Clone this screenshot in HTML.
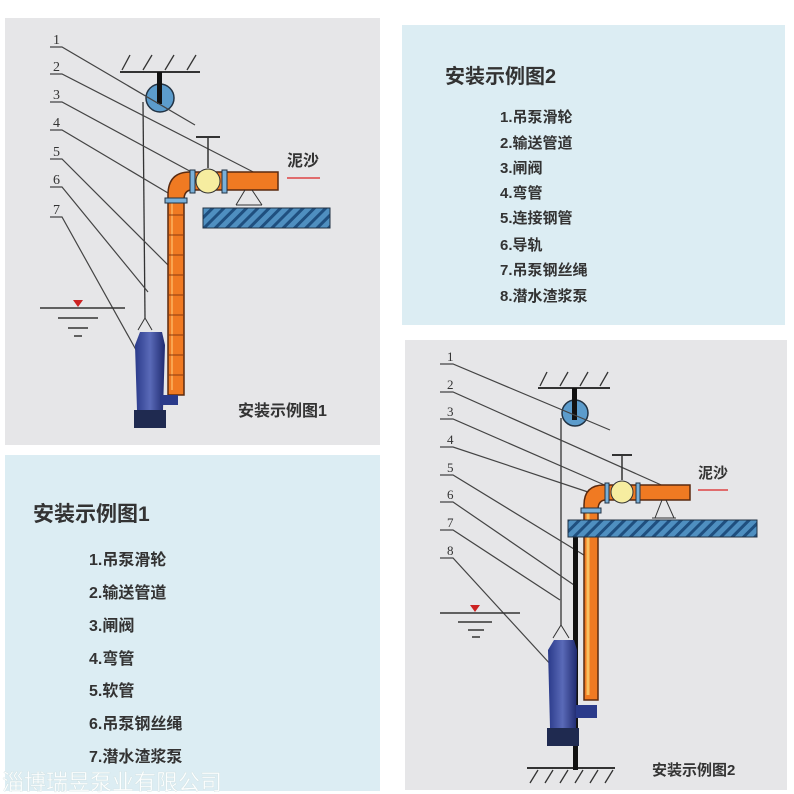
<!DOCTYPE html>
<html><head><meta charset="utf-8"><style>
html,body{margin:0;padding:0;background:#fff;}
svg{display:block;}
text{font-family:"Liberation Sans","Noto Sans CJK SC",sans-serif;}
</style></head><body>
<svg width="794" height="794" viewBox="0 0 794 794" xmlns="http://www.w3.org/2000/svg">
<defs>
<pattern id="h" width="8" height="8" patternUnits="userSpaceOnUse" patternTransform="rotate(45)">
<rect width="8" height="8" fill="#4f8fc0"/><rect width="3" height="8" fill="#1f4f7f"/>
</pattern>
<linearGradient id="pump" x1="0" x2="1"><stop offset="0" stop-color="#2a3a8a"/><stop offset="0.5" stop-color="#5a6ab8"/><stop offset="1" stop-color="#1f2a70"/></linearGradient>
</defs>
<rect x="5" y="18" width="375" height="427" fill="#e6e6e8"/>
<rect x="402" y="25" width="383" height="300" fill="#dcedf3"/>
<rect x="5" y="455" width="375" height="336" fill="#dcedf3"/>
<rect x="405" y="340" width="382" height="450" fill="#e6e6e8"/>

<!-- FIG 1 -->
<g fill="none" stroke="#333" stroke-width="1.3">
<line x1="120" y1="72" x2="200" y2="72" stroke-width="2"/>
<line x1="122" y1="70" x2="130" y2="55"/><line x1="143" y1="70" x2="152" y2="55"/><line x1="165" y1="70" x2="174" y2="55"/><line x1="187" y1="70" x2="196" y2="55"/>
</g>
<circle cx="160" cy="98" r="14" fill="#5c9ccc" stroke="#234" stroke-width="1.5"/>
<rect x="157" y="72" width="5" height="32" fill="#111"/>
<line x1="143" y1="102" x2="145" y2="318" stroke="#333" stroke-width="1.3"/>
<g stroke="#444" stroke-width="1.2" fill="none">
<polyline points="50,47 62,47 195,125"/>
<polyline points="50,74 62,74 265,178"/>
<polyline points="50,102 62,102 210,182"/>
<polyline points="50,130 62,130 168,193"/>
<polyline points="50,159 62,159 178,275"/>
<polyline points="50,187 62,187 148,292"/>
<polyline points="50,217 62,217 140,357"/>
</g>
<g font-family="Liberation Serif" font-size="14" fill="#333">
<text x="53" y="44" style="font-family:'Liberation Serif',serif">1</text><text x="53" y="71" style="font-family:'Liberation Serif',serif">2</text><text x="53" y="99" style="font-family:'Liberation Serif',serif">3</text><text x="53" y="127" style="font-family:'Liberation Serif',serif">4</text><text x="53" y="156" style="font-family:'Liberation Serif',serif">5</text><text x="53" y="184" style="font-family:'Liberation Serif',serif">6</text><text x="53" y="214" style="font-family:'Liberation Serif',serif">7</text>
</g>
<path d="M168,395 L168,195 Q168,172 190,172 L278,172 L278,190 L192,190 Q184,190 184,200 L184,395 Z" fill="#f07a22" stroke="#5a2a10" stroke-width="1.5"/>
<path d="M172,200 L172,390" stroke="#f9a550" stroke-width="2"/>
<g stroke="#8a3a10" stroke-width="1"><line x1="168" y1="215" x2="184" y2="215"/><line x1="168" y1="235" x2="184" y2="235"/><line x1="168" y1="255" x2="184" y2="255"/><line x1="168" y1="275" x2="184" y2="275"/><line x1="168" y1="295" x2="184" y2="295"/><line x1="168" y1="315" x2="184" y2="315"/><line x1="168" y1="335" x2="184" y2="335"/><line x1="168" y1="355" x2="184" y2="355"/><line x1="168" y1="375" x2="184" y2="375"/></g>
<rect x="165" y="198" width="22" height="5" fill="#7ab0d8" stroke="#234"/>
<rect x="190" y="170" width="5" height="23" fill="#7ab0d8" stroke="#234"/>
<rect x="222" y="170" width="5" height="23" fill="#7ab0d8" stroke="#234"/>
<line x1="208" y1="168" x2="208" y2="137" stroke="#333" stroke-width="1.5"/>
<line x1="196" y1="137" x2="220" y2="137" stroke="#333" stroke-width="2"/>
<circle cx="208" cy="181" r="12" fill="#f6eda0" stroke="#333"/>
<path d="M245,190 L236,205 M252,190 L262,205 M236,205 L262,205" stroke="#333" fill="none"/>
<rect x="203" y="208" width="127" height="20" fill="url(#h)" stroke="#234"/>
<text x="287" y="166" font-size="16" font-weight="bold" fill="#333">泥沙</text>
<line x1="287" y1="178" x2="320" y2="178" stroke="#d44" stroke-width="1.5"/>
<g stroke="#333" stroke-width="1.5"><line x1="40" y1="308" x2="125" y2="308"/><line x1="58" y1="318" x2="98" y2="318"/><line x1="68" y1="328" x2="88" y2="328"/><line x1="74" y1="336" x2="82" y2="336"/></g>
<path d="M73,300 L83,300 L78,307 Z" fill="#c22"/>
<path d="M145,318 L138,330 M145,318 L152,330" stroke="#333" fill="none"/>
<path d="M140,332 L162,332 L165,345 L163,410 L137,410 L135,345 Z" fill="url(#pump)"/>
<path d="M160,395 L178,395 L178,405 L160,405 Z" fill="#2a3a8a"/>
<rect x="134" y="410" width="32" height="18" fill="#1f2a50"/>
<text x="238" y="416" font-size="16" font-weight="bold" fill="#333">安装示例图1</text>

<!-- FIG 2 -->
<g fill="none" stroke="#333" stroke-width="1.3">
<line x1="538" y1="388" x2="610" y2="388" stroke-width="2"/>
<line x1="540" y1="386" x2="547" y2="372"/><line x1="560" y1="386" x2="568" y2="372"/><line x1="580" y1="386" x2="588" y2="372"/><line x1="600" y1="386" x2="608" y2="372"/>
<line x1="527" y1="768" x2="615" y2="768" stroke-width="2"/>
<line x1="530" y1="783" x2="538" y2="770"/><line x1="545" y1="783" x2="553" y2="770"/><line x1="560" y1="783" x2="568" y2="770"/><line x1="575" y1="783" x2="583" y2="770"/><line x1="590" y1="783" x2="598" y2="770"/><line x1="605" y1="783" x2="613" y2="770"/>
</g>
<circle cx="575" cy="413" r="13" fill="#5c9ccc" stroke="#234" stroke-width="1.5"/>
<rect x="572" y="388" width="5" height="32" fill="#111"/>
<line x1="561" y1="418" x2="561" y2="625" stroke="#333" stroke-width="1.3"/>
<g stroke="#444" stroke-width="1.2" fill="none">
<polyline points="440,364 453,364 610,430"/>
<polyline points="440,392 453,392 668,488"/>
<polyline points="440,419 453,419 616,490"/>
<polyline points="440,447 453,447 588,492"/>
<polyline points="440,475 453,475 592,560"/>
<polyline points="440,502 453,502 574,585"/>
<polyline points="440,530 453,530 560,600"/>
<polyline points="440,558 453,558 552,666"/>
</g>
<g font-size="13" fill="#333">
<text x="447" y="361" style="font-family:'Liberation Serif',serif">1</text><text x="447" y="389" style="font-family:'Liberation Serif',serif">2</text><text x="447" y="416" style="font-family:'Liberation Serif',serif">3</text><text x="447" y="444" style="font-family:'Liberation Serif',serif">4</text><text x="447" y="472" style="font-family:'Liberation Serif',serif">5</text><text x="447" y="499" style="font-family:'Liberation Serif',serif">6</text><text x="447" y="527" style="font-family:'Liberation Serif',serif">7</text><text x="447" y="555" style="font-family:'Liberation Serif',serif">8</text>
</g>
<rect x="573" y="537" width="5" height="233" fill="#111"/>
<path d="M584,700 L584,505 Q584,485 604,485 L690,485 L690,500 L606,500 Q598,500 598,510 L598,700 Z" fill="#f07a22" stroke="#5a2a10" stroke-width="1.5"/>
<path d="M588,510 L588,695" stroke="#f9c060" stroke-width="3"/>
<rect x="581" y="508" width="20" height="5" fill="#7ab0d8" stroke="#234"/>
<rect x="605" y="483" width="4" height="20" fill="#7ab0d8" stroke="#234"/>
<rect x="636" y="483" width="4" height="20" fill="#7ab0d8" stroke="#234"/>
<line x1="622" y1="480" x2="622" y2="455" stroke="#333" stroke-width="1.5"/>
<line x1="612" y1="455" x2="632" y2="455" stroke="#333" stroke-width="2"/>
<circle cx="622" cy="492" r="11" fill="#f6eda0" stroke="#333"/>
<path d="M662,500 L655,518 M666,500 L674,518 M652,518 L676,518" stroke="#333" fill="none"/>
<rect x="568" y="520" width="189" height="17" fill="url(#h)" stroke="#234"/>
<text x="698" y="478" font-size="15" font-weight="bold" fill="#333">泥沙</text>
<line x1="698" y1="490" x2="728" y2="490" stroke="#d44" stroke-width="1.5"/>
<g stroke="#333" stroke-width="1.5"><line x1="440" y1="613" x2="520" y2="613"/><line x1="458" y1="622" x2="492" y2="622"/><line x1="468" y1="630" x2="484" y2="630"/><line x1="472" y1="637" x2="480" y2="637"/></g>
<path d="M470,605 L480,605 L475,612 Z" fill="#c22"/>
<path d="M561,625 L553,638 M561,625 L569,638" stroke="#333" fill="none"/>
<path d="M554,640 L574,640 L577,650 L576,728 L550,728 L548,650 Z" fill="url(#pump)"/>
<path d="M576,705 L597,705 L597,718 L576,718 Z" fill="#2a3a8a"/>
<rect x="547" y="728" width="32" height="18" fill="#1f2a50"/>
<text x="652" y="775" font-size="15" font-weight="bold" fill="#333">安装示例图2</text>

<g fill="#333" font-weight="bold">
<text x="445" y="83" font-size="20">安装示例图2</text>
<g font-size="15">
<text x="500" y="122">1.吊泵滑轮</text>
<text x="500" y="148">2.输送管道</text>
<text x="500" y="173">3.闸阀</text>
<text x="500" y="198">4.弯管</text>
<text x="500" y="223">5.连接钢管</text>
<text x="500" y="250">6.导轨</text>
<text x="500" y="275">7.吊泵钢丝绳</text>
<text x="500" y="301">8.潜水渣浆泵</text>
</g>
<text x="33" y="521" font-size="21">安装示例图1</text>
<g font-size="16">
<text x="89" y="565">1.吊泵滑轮</text>
<text x="89" y="598">2.输送管道</text>
<text x="89" y="631">3.闸阀</text>
<text x="89" y="664">4.弯管</text>
<text x="89" y="696">5.软管</text>
<text x="89" y="729">6.吊泵钢丝绳</text>
<text x="89" y="762">7.潜水渣浆泵</text>
</g>
</g>
<text x="2" y="790" font-size="22" fill="#fff" fill-opacity="0.9" stroke="#cdd" stroke-width="0.3">淄博瑞昱泵业有限公司</text>
</svg>
</body></html>
